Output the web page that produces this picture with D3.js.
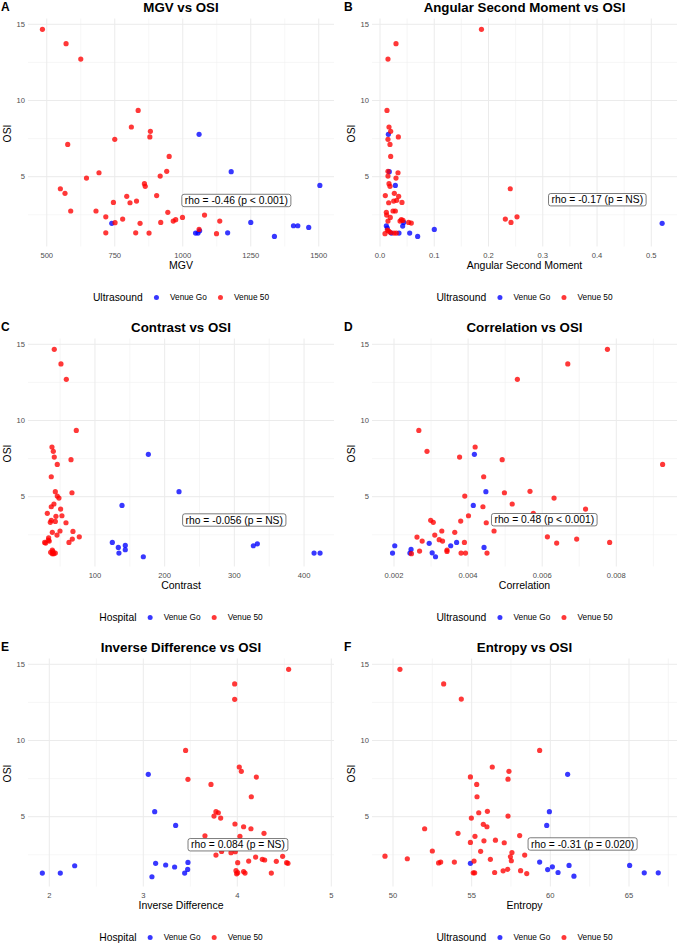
<!DOCTYPE html>
<html><head><meta charset="utf-8">
<script src="https://cdn.jsdelivr.net/npm/d3@7"></script>
<style>body{margin:0;background:#fff} svg{display:block;font-family:"Liberation Sans",Arial,Helvetica,sans-serif}</style>
</head><body><svg id="c" width="677" height="944"></svg>
<script>
// ---------- tick values ----------
const osiTicks = [5, 10, 15];
const mgvTicks = [500, 750, 1000, 1250, 1500];
const asmTicks = [0, 0.1, 0.2, 0.3, 0.4, 0.5];
const contrastTicks = [100, 200, 300, 400];
const corrTicks = [0.002, 0.004, 0.006, 0.008];
const idTicks = [2, 3, 4, 5];
const entropyTicks = [50, 55, 60, 65];
const groups = ["Venue Go", "Venue 50"];

// ---------- data ----------
const mgvGoX = [1060,1178,1504,739,1250,1165,1047,1056,1062,1407,1423,1463,1337];
const mgvGoY = [7.78,5.33,4.43,1.94,2.00,1.32,1.30,1.30,1.45,1.78,1.78,1.67,1.08];
const mgv50X = [484,571,625,836,811,881,750,879,577,950,692,941,917,646,859,862,550,567,904,794,830,806,745,588,681,945,1080,999,717,779,974,965,1136,919,751,843,717,827,876,1124,1060];
const mgv50Y = [14.67,13.73,12.72,9.35,8.26,7.98,7.45,7.61,7.12,6.33,5.26,5.35,5.04,4.91,4.54,4.37,4.21,3.91,3.76,3.71,3.40,3.29,3.31,2.75,2.75,2.66,2.48,2.33,2.37,2.22,2.18,2.09,2.09,2.00,1.98,1.94,1.32,1.32,1.30,1.26,1.54];

const asmGoX = [0.0154,0.0172,0.0283,0.0436,0.0418,0.0117,0.0135,0.0209,0.035,0.0547,0.0694,0.1001,0.520];
const asmGoY = [7.78,5.33,4.43,2.00,1.76,1.78,1.63,1.30,1.30,1.30,1.08,1.54,1.94];
const asm50X = [0.187,0.0295,0.0147,0.0129,0.0166,0.0197,0.0338,0.0147,0.0184,0.0197,0.0147,0.0332,0.0295,0.0147,0.0166,0.0184,0.240,0.0264,0.0098,0.0344,0.0252,0.0307,0.016,0.0405,0.024,0.0283,0.0117,0.0123,0.2525,0.231,0.019,0.0393,0.0424,0.0147,0.2414,0.0528,0.0577,0.0369,0.0135,0.016,0.0092,0.019,0.0258,0.0301];
const asm50Y = [14.67,13.73,12.72,9.35,8.26,7.98,7.61,7.45,7.12,6.33,5.35,5.26,4.91,5.04,4.54,4.37,4.21,3.91,3.76,3.71,3.40,3.45,3.29,3.31,2.75,2.75,2.66,2.48,2.37,2.22,2.33,2.18,2.13,2.09,2.00,2.00,1.96,2.09,1.50,1.43,1.26,1.35,1.30,1.30];

const conGoX = [176.6,220.6,138.8,124.9,133.5,143.5,143.5,134.4,169.4,327.3,333.0,414.4,423.0];
const conGoY = [7.78,5.33,4.43,2.00,1.67,1.80,1.52,1.30,1.06,1.78,1.91,1.30,1.30];
const con50X = [41.6,51.2,58.9,73.2,38.3,40.2,41.6,65.6,45.9,37.3,43.1,67.0,45.9,48.3,41.1,50.7,37.3,31.6,52.6,44.0,37.3,58.4,35.9,43.1,68.4,49.8,38.8,45.5,77.5,33.5,67.5,33.0,34.4,62.7,27.8,29.2,38.8,39.7,36.4,43.1,38.8,40.7];
const con50Y = [14.67,13.71,12.70,9.35,8.26,7.98,7.60,7.43,7.12,6.31,5.33,5.26,5.04,4.91,4.52,4.19,4.34,3.91,3.75,3.71,3.45,3.29,3.32,3.38,2.72,2.75,2.66,2.48,2.37,2.30,2.22,2.15,2.09,2.00,2.00,1.96,1.50,1.39,1.35,1.30,1.26,1.26];

const corGoX = [0.00417,0.00448,0.00414,0.00295,0.00369,0.00353,0.00202,0.00443,0.00246,0.00303,0.00196,0.00243,0.00312];
const corGoY = [7.78,5.33,4.43,1.94,2.00,1.78,1.78,1.67,1.54,1.32,1.30,1.30,1.06];
const cor50X = [0.00776,0.00669,0.00533,0.00267,0.00419,0.00289,0.00377,0.00492,0.00925,0.00442,0.00567,0.00498,0.00391,0.00632,0.00519,0.00717,0.0044,0.00576,0.00401,0.0038,0.00299,0.00306,0.00449,0.00329,0.0047,0.00364,0.0031,0.00614,0.00262,0.00693,0.00322,0.00276,0.00331,0.0039,0.00639,0.00782,0.00343,0.00343,0.00269,0.00381,0.00393,0.00451,0.00247];
const cor50Y = [14.67,13.71,12.70,9.35,8.26,7.98,7.60,7.43,7.12,6.31,5.35,5.26,5.04,4.91,4.52,4.19,4.34,3.91,3.75,3.40,3.45,3.32,3.29,2.75,2.75,2.66,2.48,2.37,2.35,2.22,2.18,2.09,2.09,2.00,1.96,2.00,1.50,1.41,1.43,1.30,1.30,1.30,1.26];

const idGoX = [3.053,3.121,3.344,1.926,2.117,2.270,3.131,3.238,3.333,3.475,3.472,3.44,3.092];
const idGoY = [7.78,5.33,4.43,1.30,1.30,1.78,1.94,1.83,1.70,2.00,1.54,1.30,1.06];
const id50X = [4.546,3.972,3.972,3.450,4.021,4.043,4.202,3.475,3.720,4.149,3.773,3.798,3.752,3.823,3.975,4.067,4.145,4.284,3.656,4.028,3.773,3.833,3.933,3.979,4.195,4.482,4.266,4.291,4.004,4.121,4.415,4.525,4.539,3.986,3.993,4.004,4.067,4.082,4.362];
const id50Y = [14.67,13.71,12.70,9.35,8.26,7.98,7.60,7.45,7.12,6.31,5.33,5.26,5.04,4.91,4.52,4.34,4.21,3.91,3.75,3.71,2.48,2.72,2.64,2.70,2.35,2.40,2.20,2.16,1.98,2.09,2.07,1.98,1.94,1.46,1.25,1.33,1.40,1.30,1.30];

const entGoX = [61.1,59.94,59.77,54.92,59.32,61.19,60.13,59.83,60.49,61.5,65.04,65.97,66.86];
const entGoY = [7.78,5.33,4.43,1.94,2.02,1.80,1.71,1.53,1.34,1.10,1.80,1.32,1.32];
const ent50X = [50.44,53.22,54.34,59.32,56.31,57.37,54.92,57.31,55.32,55.34,55.45,56.0,57.31,54.98,55.74,55.97,52.01,54.13,58.05,55.21,56.51,55.78,54.92,57.07,52.50,55.57,57.56,58.37,57.46,49.49,50.91,56.19,57.52,55.15,53.03,52.90,53.9,58.11,57.29,57.0,56.46,55.1,55.19,58.5];
const ent50Y = [14.67,13.71,12.72,9.35,8.26,7.98,7.61,7.46,7.12,6.31,5.26,5.35,5.04,4.91,4.50,4.34,4.21,3.91,3.76,3.71,3.46,3.42,3.31,3.29,2.75,2.73,2.65,2.48,2.37,2.41,2.24,2.20,2.11,2.09,2.02,1.97,2.02,1.46,1.55,1.45,1.34,1.32,1.32,1.27];

const titles = ["MGV vs OSI","Angular Second Moment vs OSI","Contrast vs OSI","Correlation vs OSI","Inverse Difference vs OSI","Entropy vs OSI"];
const xLabels = ["MGV","Angular Second Moment","Contrast","Correlation","Inverse Difference","Entropy"];
const legendTitles = ["Ultrasound","Ultrasound","Hospital","Ultrasound","Hospital","Ultrasound"];
const tags = ["A","B","C","D","E","F"];
const rhoTexts = ["rho = -0.46 (p < 0.001)","rho = -0.17 (p = NS)","rho = -0.056 (p = NS)","rho = 0.48 (p < 0.001)","rho = 0.084 (p = NS)","rho = -0.31 (p = 0.020)"];
const rhoX = [1197, 0.4005, 299.9, 0.006056, 4.007, 62.05];
const rhoY = [3.44, 3.49, 3.47, 3.49, 3.16, 3.21];

// ---------- layout ----------
const colors = {"Venue Go":"#0000FF","Venue 50":"#FF0000"};
const ptOpacity = 0.78;
const colRange = [[28,334],[372,677]];
const rowRange = [[246.5,18.5],[566.5,338.5],[886.5,658.5]];
const yDomain = [0.42, 15.38];

const panels = [
 {x:mgvTicks, fmt:d3.format("d"), dom:[431,1556], go:[mgvGoX,mgvGoY], v50:[mgv50X,mgv50Y]},
 {x:asmTicks, fmt:d3.format(".1f"), dom:[-0.01474,0.54737], go:[asmGoX,asmGoY], v50:[asm50X,asm50Y]},
 {x:contrastTicks, fmt:d3.format("d"), dom:[3.9,443], go:[conGoX,conGoY], v50:[con50X,con50Y]},
 {x:corrTicks, fmt:d3.format(".3f"), dom:[0.001406,0.009638], go:[corGoX,corGoY], v50:[cor50X,cor50Y]},
 {x:idTicks, fmt:d3.format("d"), dom:[1.7734,5.0287], go:[idGoX,idGoY], v50:[id50X,id50Y]},
 {x:entropyTicks, fmt:d3.format("d"), dom:[48.665,68.051], go:[entGoX,entGoY], v50:[ent50X,ent50Y]}
];

function minors(ticks, dom){
  const step = ticks[1]-ticks[0], out=[];
  for(let i=-1;i<ticks.length;i++){
    const v = ticks[0] + step*(i+0.5);
    if(v>=Math.min(...dom) && v<=Math.max(...dom)) out.push(v);
  }
  return out;
}

const svg = d3.select("#c");
panels.forEach((p,i)=>{
  const col = i%2, row = Math.floor(i/2);
  const xr = colRange[col], yr = rowRange[row];
  const x = d3.scaleLinear().domain(p.dom).range(xr);
  const y = d3.scaleLinear().domain(yDomain).range(yr);
  const g = svg.append("g");
  const top = yr[1], bot = yr[0], left = xr[0], right = xr[1];
  const cx = (left+right)/2, cy = (top+bot)/2;

  // minor grid
  const yMinor = minors(osiTicks, yDomain);
  const xMinor = minors(p.x, p.dom);
  g.selectAll(null).data(xMinor).enter().append("line")
    .attr("x1",d=>x(d)).attr("x2",d=>x(d)).attr("y1",top).attr("y2",bot)
    .attr("stroke","#F0F0F0").attr("stroke-width",0.6);
  g.selectAll(null).data(yMinor).enter().append("line")
    .attr("y1",d=>y(d)).attr("y2",d=>y(d)).attr("x1",left).attr("x2",right)
    .attr("stroke","#F0F0F0").attr("stroke-width",0.6);
  // major grid
  g.selectAll(null).data(p.x).enter().append("line")
    .attr("x1",d=>x(d)).attr("x2",d=>x(d)).attr("y1",top).attr("y2",bot)
    .attr("stroke","#EBEBEB").attr("stroke-width",1);
  g.selectAll(null).data(osiTicks).enter().append("line")
    .attr("y1",d=>y(d)).attr("y2",d=>y(d)).attr("x1",left).attr("x2",right)
    .attr("stroke","#EBEBEB").attr("stroke-width",1);

  // tick labels
  g.selectAll(null).data(osiTicks).enter().append("text")
    .attr("x",left-3).attr("y",d=>y(d)).attr("dy","0.35em")
    .attr("text-anchor","end").attr("font-size",7.6).attr("fill","#4D4D4D").text(d=>d);
  g.selectAll(null).data(p.x).enter().append("text")
    .attr("x",d=>x(d)).attr("y",bot+11)
    .attr("text-anchor","middle").attr("font-size",7.6).attr("fill","#4D4D4D").text(d=>p.fmt(d));

  // axis titles
  g.append("text").attr("x",cx).attr("y",bot+22).attr("text-anchor","middle")
    .attr("font-size",10.5).attr("fill","#000").text(xLabels[i]);
  g.append("text").attr("transform",`translate(${left-17.5},${cy+1}) rotate(-90)`)
    .attr("text-anchor","middle").attr("font-size",10.3).attr("fill","#000").text("OSI");

  // title & tag
  g.append("text").attr("x",cx).attr("y",top-6.8).attr("text-anchor","middle")
    .attr("font-size",13.3).attr("font-weight","bold").attr("fill","#000").text(titles[i]);
  g.append("text").attr("x",col===0?1:344).attr("y",top-7.5)
    .attr("font-size",12).attr("font-weight","bold").attr("fill","#000").text(tags[i]);

  // points
  [["Venue Go",p.go],["Venue 50",p.v50]].forEach(([grp,[xs,ys]])=>{
    g.selectAll(null).data(xs.map((v,k)=>[v,ys[k]])).enter().append("circle")
      .attr("cx",d=>x(d[0])).attr("cy",d=>y(d[1])).attr("r",2.6)
      .attr("fill",colors[grp]).attr("fill-opacity",ptOpacity);
  });

  // rho label
  const lg = g.append("g");
  const lt = lg.append("text").attr("x",x(rhoX[i])).attr("y",y(rhoY[i])).attr("dy","0.35em")
    .attr("text-anchor","middle").attr("font-size",10.3).attr("fill","#000").text(rhoTexts[i]);
  const tw = lt.node().getComputedTextLength();
  lg.insert("rect","text").attr("x",x(rhoX[i])-tw/2-3).attr("y",y(rhoY[i])-6.2)
    .attr("width",tw+6).attr("height",12.4).attr("rx",2.2)
    .attr("fill","#fff").attr("stroke","#444").attr("stroke-width",0.7);

  // legend
  const ly = bot+51;
  const leg = g.append("g");
  const t0 = leg.append("text").attr("y",ly+3.5).attr("font-size",10.3).attr("fill","#000").text(legendTitles[i]);
  const w0 = t0.node().getComputedTextLength();
  const items = groups.map(gr=>{
    const t = leg.append("text").attr("y",ly+2.9).attr("font-size",8.3).attr("fill","#000").text(gr);
    return {gr, t, w:t.node().getComputedTextLength()};
  });
  const total = w0 + 13.7 + 13.5 + items[0].w + 13.6 + 13.5 + items[1].w;
  let cur = cx - total/2;
  t0.attr("x",cur); cur += w0 + 13.7;
  items.forEach((it,k)=>{
    leg.append("circle").attr("cx",cur).attr("cy",ly).attr("r",2.5)
      .attr("fill",colors[it.gr]).attr("fill-opacity",ptOpacity);
    cur += 13.5;
    it.t.attr("x",cur); cur += it.w + 13.6;
  });
});
</script></body></html>
